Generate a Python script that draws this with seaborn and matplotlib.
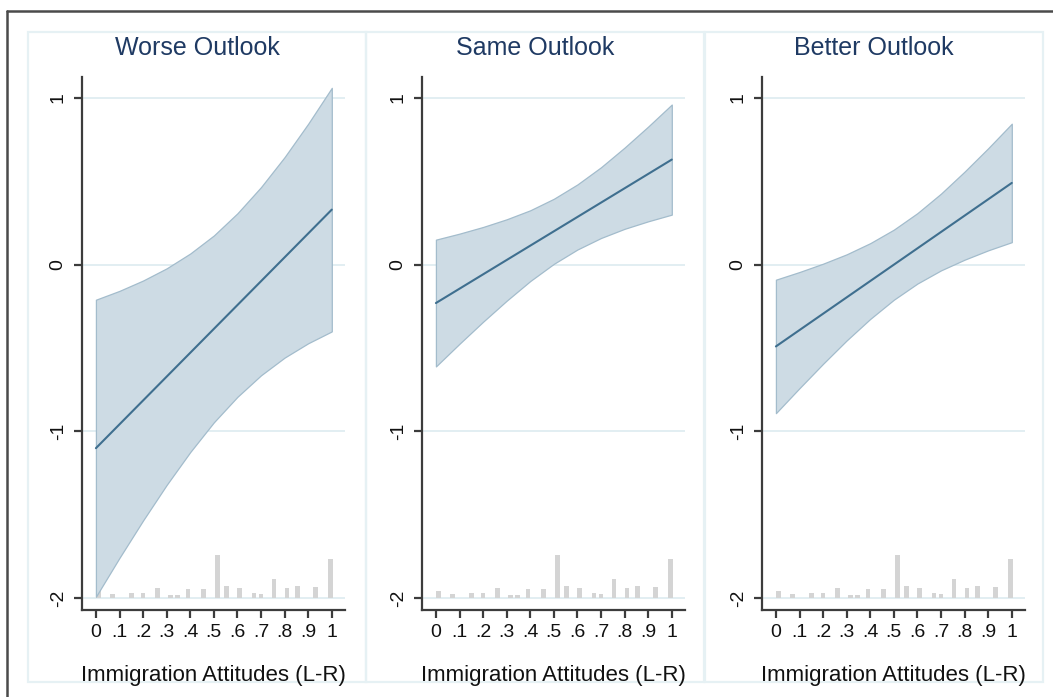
import numpy as np
import pandas as pd
import matplotlib
matplotlib.use("Agg")
import matplotlib.pyplot as plt
from matplotlib.patches import Rectangle
from matplotlib.lines import Line2D
import seaborn as sns

# Evaluation grid for the marginal effect of immigration attitudes
x_grid = [0.0, 0.1, 0.2, 0.3, 0.4, 0.5, 0.6, 0.7, 0.8, 0.9, 1.0]

# Worse outlook: estimate with 95% bounds
worse_est = [-1.10, -0.957, -0.814, -0.671, -0.528, -0.385, -0.242, -0.099, 0.044, 0.187, 0.33]
worse_hi = [-0.21, -0.157, -0.095, -0.022, 0.067, 0.175, 0.308, 0.465, 0.645, 0.845, 1.06]
worse_lo = [-1.99, -1.757, -1.533, -1.32, -1.123, -0.945, -0.792, -0.663, -0.557, -0.471, -0.40]

# Same outlook
same_est = [-0.23, -0.144, -0.058, 0.028, 0.114, 0.20, 0.286, 0.372, 0.458, 0.544, 0.63]
same_hi = [0.15, 0.186, 0.226, 0.272, 0.326, 0.395, 0.481, 0.584, 0.702, 0.828, 0.96]
same_lo = [-0.61, -0.474, -0.342, -0.216, -0.098, 0.005, 0.091, 0.160, 0.215, 0.26, 0.30]

# Better outlook
better_est = [-0.49, -0.392, -0.294, -0.196, -0.098, 0.0, 0.098, 0.196, 0.294, 0.392, 0.49]
better_hi = [-0.09, -0.044, 0.006, 0.062, 0.129, 0.21, 0.309, 0.426, 0.558, 0.698, 0.845]
better_lo = [-0.89, -0.74, -0.594, -0.454, -0.325, -0.21, -0.113, -0.034, 0.03, 0.086, 0.135]

# Distribution of the moderator (drawn along the bottom of each panel)
hist_x = [0.01, 0.07, 0.15, 0.20, 0.26, 0.315, 0.345, 0.39, 0.455, 0.515,
          0.555, 0.61, 0.67, 0.70, 0.755, 0.81, 0.855, 0.93, 0.995]
hist_h = [0.046, 0.026, 0.034, 0.030, 0.064, 0.020, 0.020, 0.054, 0.054, 0.260,
          0.076, 0.064, 0.030, 0.025, 0.116, 0.064, 0.072, 0.066, 0.234]

titles = ["Worse Outlook", "Same Outlook", "Better Outlook"]
x_ticks = [0, 0.1, 0.2, 0.3, 0.4, 0.5, 0.6, 0.7, 0.8, 0.9, 1]
x_ticklabels = ["0", ".1", ".2", ".3", ".4", ".5", ".6", ".7", ".8", ".9", "1"]
y_ticks = [-2, -1, 0, 1]
y_ticklabels = ["-2", "-1", "0", "1"]
x_title = "Immigration Attitudes (L-R)"

panels = [
    (worse_est, worse_lo, worse_hi),
    (same_est, same_lo, same_hi),
    (better_est, better_lo, better_hi),
]

sns.set_theme(style="white")
plt.rcParams["font.family"] = ["Liberation Sans", "DejaVu Sans"]

W, H = 1053, 697
fig = plt.figure(figsize=(W / 100, H / 100), dpi=100)
fig.patch.set_facecolor("white")

def fx(px):
    return px / W

def fy(py):
    return 1 - py / H

# outer frame (left and top edges)
fig.add_artist(Line2D([fx(7), fx(7)], [fy(11), 0], color="#4a4a4a", lw=1.8,
                      transform=fig.transFigure))
fig.add_artist(Line2D([fx(7), 1], [fy(11), fy(11)], color="#4a4a4a", lw=1.8,
                      transform=fig.transFigure))

box_left = [28, 366, 705]
box_w = 338
box_top, box_bot = 32, 682
ax_left = [82, 422, 762]
ax_w = 263
ax_top, ax_bot = 77, 610

line_col = "#3f6f8f"
fill_col = "#cddbe4"
edge_col = "#a3bccc"
grid_col = "#e2eef2"
box_col = "#e6f1f4"
axis_col = "#3c3c3c"
title_col = "#1f3a63"

for i, (est, lo, hi) in enumerate(panels):
    # panel frame
    fig.add_artist(Rectangle((fx(box_left[i]), fy(box_bot)), fx(box_w),
                             (box_bot - box_top) / H, transform=fig.transFigure,
                             facecolor="none", edgecolor=box_col, lw=1.6, zorder=0))
    fig.text(fx(box_left[i] + box_w / 2), fy(48), titles[i], ha="center", va="center",
             fontsize=18, color=title_col)

    ax = fig.add_axes([fx(ax_left[i]), fy(ax_bot), fx(ax_w), (ax_bot - ax_top) / H])
    ax.set_facecolor("none")

    for yv in y_ticks:
        ax.axhline(yv, color=grid_col, lw=1.4, zorder=0)

    ax.bar(hist_x, hist_h, bottom=-2, width=0.02, color="#d4d4d4", zorder=1,
           linewidth=0)

    df = pd.DataFrame({"x": x_grid, "est": est, "lo": lo, "hi": hi})
    ax.fill_between(df["x"], df["lo"], df["hi"], facecolor=fill_col,
                    edgecolor=edge_col, lw=0.9, zorder=2)
    sns.lineplot(data=df, x="x", y="est", ax=ax, color=line_col, lw=1.5, zorder=3)

    ax.set_xlim(-0.059, 1.056)
    ax.set_ylim(-2.07, 1.125)
    ax.set_xticks(x_ticks)
    ax.set_xticklabels(x_ticklabels, fontsize=14)
    ax.set_yticks(y_ticks)
    ax.set_yticklabels(y_ticklabels, fontsize=14, rotation=90, va="center")
    ax.set_xlabel(x_title, fontsize=16, labelpad=17, color="#111111")
    ax.set_ylabel("")

    for s in ["top", "right"]:
        ax.spines[s].set_visible(False)
    for s in ["left", "bottom"]:
        ax.spines[s].set_color(axis_col)
        ax.spines[s].set_linewidth(1.6)
    ax.tick_params(axis="both", direction="out", length=6, width=1.6,
                   color=axis_col, labelcolor="#111111", left=True, bottom=True)
    ax.tick_params(axis="x", pad=4)
    ax.tick_params(axis="y", pad=5)

fig.savefig("out.png", dpi=100)
